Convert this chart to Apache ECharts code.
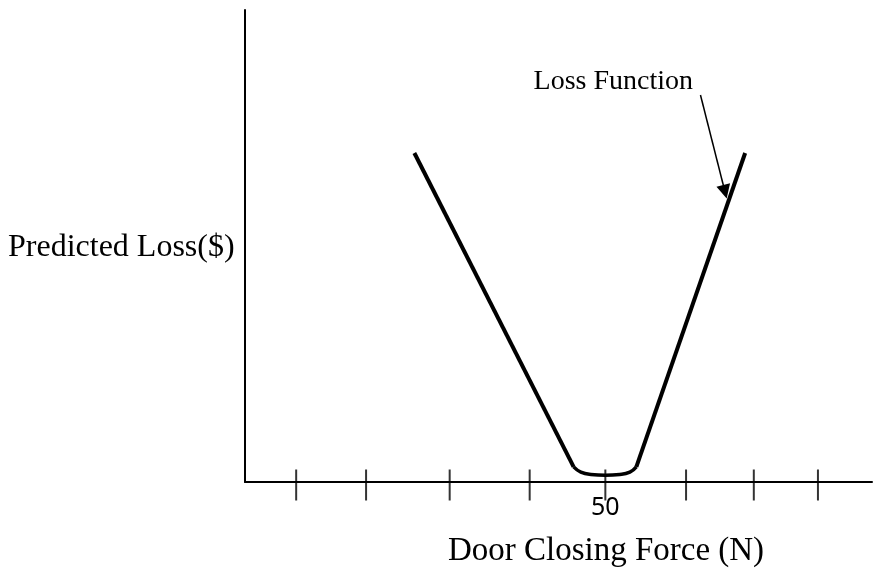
<!DOCTYPE html>
<html>
<head>
<meta charset="utf-8">
<script src="https://cdn.jsdelivr.net/npm/echarts@6/dist/echarts.min.js"></script>
<style>
  html, body { margin: 0; padding: 0; background: #fff; }
  #chart { width: 874px; height: 579px; }
</style>
</head>
<body>
<div id="chart"></div>
<script>
// hand-drawn tick marks along the force axis (uneven spacing, as in the sketch)
const tickX = [7.1, 16.8, 28.4, 39.5, 50, 61.2, 70.6, 79.5];
const tickLabels = { 50: "50" };

// loss function: two straight arms and a rounded bottom near the target
const armLeft = [[23.5, 69.7], [45.6, 3.2]];
const armRight = [[54.3, 3.2], [69.4, 69.7]];
const bottomCurve = [[45.6, 3.2], [46.6, 2.1], [48, 1.6], [50, 1.45], [52, 1.6], [53.4, 2.1], [54.3, 3.2]];

// annotation arrow pointing at the right arm
const arrowFrom = [63.2, 82.0];
const arrowTo = [66.6, 61.5];

const chart = echarts.init(document.getElementById("chart"));
const serif = "'Liberation Serif', 'Times New Roman', serif";

chart.setOption({
  animation: false,
  grid: { left: 245, right: 2, top: 10, bottom: 97 },
  xAxis: {
    type: "value",
    min: 0,
    max: 87,
    interval: 50,
    axisLine: { lineStyle: { color: "#000", width: 2 } },
    axisTick: { show: false },
    splitLine: { show: false },
    axisLabel: {
      margin: 13,
      color: "#000",
      fontFamily: "'Noto Sans', sans-serif",
      fontSize: 25,
      showMaxLabel: false,
      formatter: (v) => tickLabels[v] || "",
    },
  },
  yAxis: {
    type: "value",
    min: 0,
    max: 100,
    axisLine: { show: true, lineStyle: { color: "#000", width: 2 } },
    axisTick: { show: false },
    axisLabel: { show: false },
    splitLine: { show: false },
  },
  graphic: [
    {
      type: "text",
      style: { text: "Predicted Loss($)", x: 8, y: 248, font: "32px " + serif, fill: "#000", textVerticalAlign: "middle" },
    },
    {
      type: "text",
      style: { text: "Door Closing Force (N)", x: 606, y: 551, font: "33px " + serif, fill: "#000", textAlign: "center", textVerticalAlign: "middle" },
    },
    {
      type: "text",
      style: { text: "Loss Function", x: 693, y: 82, font: "28px " + serif, fill: "#000", textAlign: "right", textVerticalAlign: "middle" },
    },
  ],
  series: [
    {
      name: "ticks",
      type: "scatter",
      silent: true,
      symbol: "rect",
      symbolSize: [2, 31],
      symbolOffset: [0, 3],
      itemStyle: { color: "#000" },
      data: tickX.map((x) => [x, 0]),
      markLine: {
        silent: true,
        symbol: ["none", "triangle"],
        symbolSize: 14,
        label: { show: false },
        lineStyle: { color: "#000", width: 1.5, type: "solid" },
        data: [[{ coord: arrowFrom }, { coord: arrowTo }]],
      },
    },
    {
      name: "left arm",
      type: "line",
      silent: true,
      symbol: "none",
      lineStyle: { color: "#000", width: 4 },
      data: armLeft,
    },
    {
      name: "right arm",
      type: "line",
      silent: true,
      symbol: "none",
      lineStyle: { color: "#000", width: 4 },
      data: armRight,
    },
    {
      name: "bottom",
      type: "line",
      silent: true,
      symbol: "none",
      smooth: 0.5,
      lineStyle: { color: "#000", width: 3.5 },
      data: bottomCurve,
    },
  ],
});

window.addEventListener("resize", () => chart.resize());
</script>
</body>
</html>
